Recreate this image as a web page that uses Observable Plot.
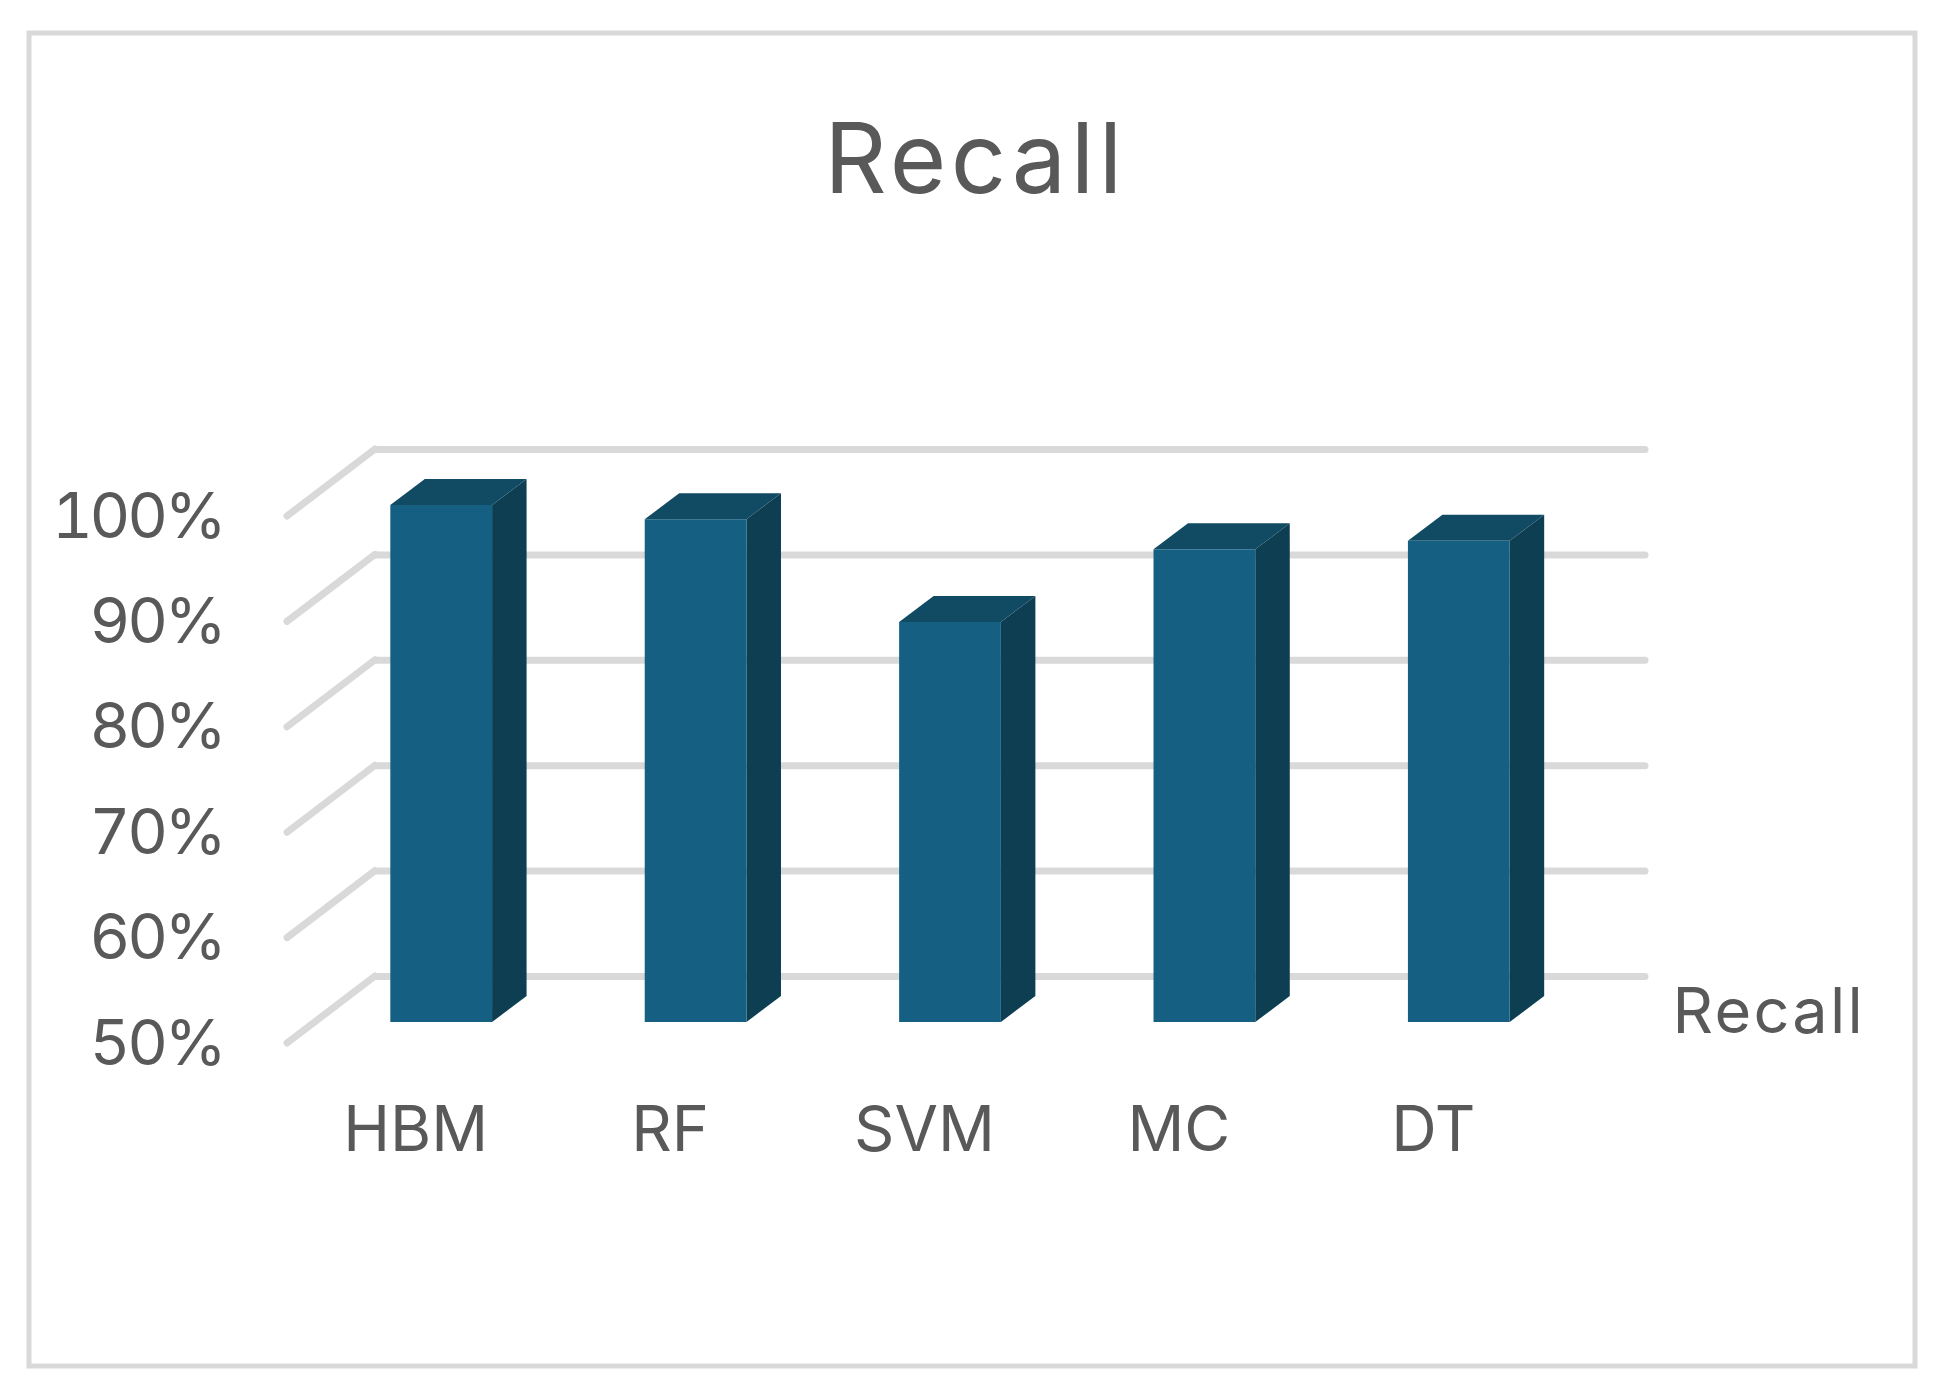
<!DOCTYPE html>
<html>
<head>
<meta charset="utf-8">
<script src="https://cdn.jsdelivr.net/npm/d3@7"></script>
<script src="https://cdn.jsdelivr.net/npm/@observablehq/plot@0.6"></script>
<style>
html,body{margin:0;padding:0;background:#fff}
svg{display:block}
</style>
</head>
<body>
<div id="chart"></div>
<script>
const categories = ["HBM", "RF", "SVM", "MC", "DT"];
const recall = [99.05, 97.7, 87.95, 94.85, 95.65];
const yTicks = [50, 60, 70, 80, 90, 100];
const titleText = "Recall";
const seriesName = "Recall";

const rows = categories.map((name, i) => ({name, value: recall[i]}));

const ink = "#595959", gridColor = "#d9d9d9";
const frontFill = "#156082", sideFill = "#0d3e52", topFill = "#114a63";
const depthX = 34.5, depthY = -26, floorDy = 46;
const diagX = -88, diagY = 67;
const ml = 225, mr = 292, mb = 288;

function poly(g, pts, fill) {
  g.append("path").attr("d", "M" + pts.map(p => p.join(",")).join("L") + "Z").attr("fill", fill);
}

const barFaces = (I, scales, values, dims, ctx, next) => {
  const g = d3.create("svg:g");
  const w = scales.x.bandwidth();
  for (const i of I) {
    const x0 = values.x[i], x1 = x0 + w;
    const yt = scales.y(rows[i].value) + floorDy, yb = scales.y(yTicks[0]) + floorDy;
    poly(g, [[x1, yt], [x1 + depthX, yt + depthY], [x1 + depthX, yb + depthY], [x1, yb]], sideFill);
    poly(g, [[x0, yt], [x0 + depthX, yt + depthY], [x1 + depthX, yt + depthY], [x1, yt]], topFill);
  }
  g.append(() => next(I, scales, values, dims, ctx));
  return g.node();
};

const wallLines = (I, scales, values, dims, ctx, next) => {
  const g = d3.create("svg:g");
  g.append(() => next(I, scales, values, dims, ctx));
  const x = dims.marginLeft + 150;
  for (const i of I) {
    const y = values.y[i];
    g.append("path").attr("d", `M${x + diagX},${y + diagY}L${x},${y}`)
      .attr("fill", "none").attr("stroke", gridColor).attr("stroke-width", 7).attr("stroke-linecap", "round");
  }
  return g.node();
};

const spaced = px => (I, scales, values, dims, ctx, next) => {
  const g = next(I, scales, values, dims, ctx);
  g.style.letterSpacing = px + "px";
  return g;
};

const chart = Plot.plot({
  width: 1940,
  height: 1393,
  marginLeft: ml,
  marginRight: mr,
  marginTop: 0,
  marginBottom: mb,
  style: {fontFamily: "Inter, sans-serif", background: "#fff", color: ink},
  x: {type: "band", domain: categories, range: [314, 1586], paddingInner: 0.6, paddingOuter: 0.3, round: false, label: null},
  y: {type: "linear", domain: [50, 100], range: [976, 449], label: null},
  marks: [
    Plot.frame({stroke: gridColor, strokeWidth: 5, insetLeft: -196.5, insetRight: -266.5, insetTop: 32.5, insetBottom: -260.5}),
    Plot.ruleY(yTicks, {stroke: gridColor, strokeWidth: 7, strokeLinecap: "round", insetLeft: 150, insetRight: 3, render: wallLines}),
    Plot.barY(rows, {x: "name", y1: () => yTicks[0], y2: "value", fill: frontFill, dy: floorDy, render: barFaces}),
    Plot.axisY({ticks: yTicks, tickFormat: d => d + "%", tickSize: 0, tickPadding: 2, dy: 68, fontSize: 63, fill: ink, label: null, render: spaced(-3.2)}),
    Plot.axisX({tickSize: 0, tickPadding: 1, dx: -26, dy: 0, fontSize: 63, fill: ink, label: null}),
    Plot.text([titleText], {text: d => d, frameAnchor: "top-left", dx: 750, dy: 192, lineAnchor: "bottom", textAnchor: "middle", fontSize: 97, fill: ink, render: spaced(4.5)}),
    Plot.text([seriesName], {text: d => d, frameAnchor: "top-left", dx: 1447, dy: 1032, lineAnchor: "bottom", textAnchor: "start", fontSize: 63, fill: ink, render: spaced(2.3)})
  ]
});
document.getElementById("chart").append(chart);
</script>
</body>
</html>
